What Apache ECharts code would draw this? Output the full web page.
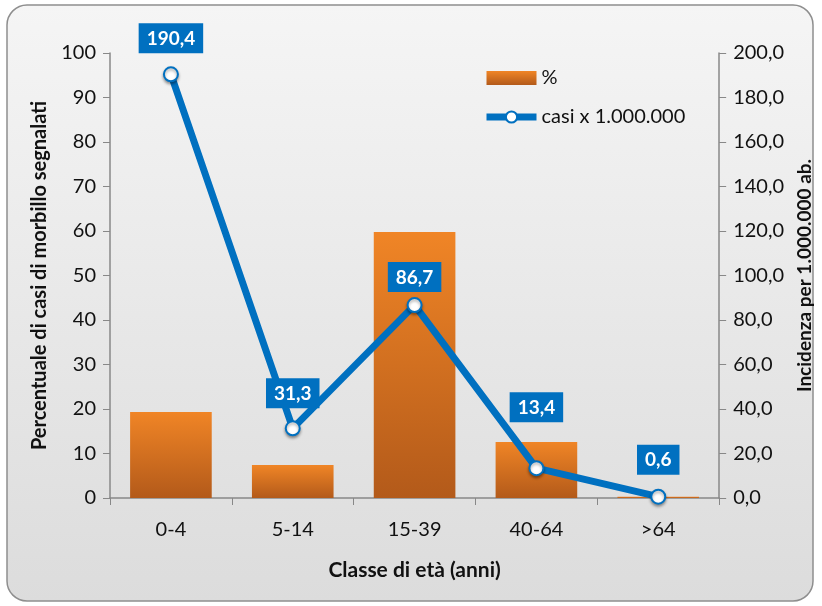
<!DOCTYPE html>
<html><head><meta charset="utf-8">
<script src="https://cdn.jsdelivr.net/npm/echarts@6/dist/echarts.min.js"></script>
<style>html,body{margin:0;padding:0;background:#fff}#c{width:822px;height:606px}</style>
</head><body><div id="c"></div>
<script>
const categories = ['0-4', '5-14', '15-39', '40-64', '>64'];
const percentValues = [19.3, 7.4, 59.8, 12.6, 0.3];
const incidenceValues = [190.4, 31.3, 86.7, 13.4, 0.6];
const seriesNames = ['%', 'casi x 1.000.000'];
const xAxisTitle = 'Classe di età (anni)';
const leftAxisTitle = 'Percentuale di casi di morbillo segnalati';
const rightAxisTitle = 'Incidenza per 1.000.000 ab.';

// label offsets above each point (style only)
const labelGaps = [13, 12, 5, 38, 14];

const FONT = 'Lato, "Open Sans", sans-serif';
const comma1 = v => v.toFixed(1).replace('.', ',');
const chart = echarts.init(document.getElementById('c'));
chart.setOption({
  animation: false,
  textStyle: { fontFamily: FONT },
  graphic: [{
    type: 'rect', z: -10, silent: true,
    shape: { x: 7, y: 5, width: 806, height: 596, r: 20 },
    style: {
      fill: new echarts.graphic.LinearGradient(0, 0, 0, 1, [
        { offset: 0, color: '#f5f5f5' }, { offset: 1, color: '#dcdcdc' }]),
      stroke: '#8e8e8e', lineWidth: 1.5
    }
  }],
  legend: {
    orient: 'vertical', left: 478, top: 63, itemGap: 19,
    itemWidth: 50, itemHeight: 14,
    textStyle: { fontSize: 20, color: '#111', fontFamily: FONT },
    data: [
      { name: seriesNames[0], icon: 'rect' },
      { name: seriesNames[1], lineStyle: { width: 7 } }
    ]
  },
  grid: { left: 110, right: 102, top: 53, bottom: 108 },
  xAxis: {
    type: 'category', data: categories,
    name: xAxisTitle, nameLocation: 'middle', nameGap: 62,
    nameTextStyle: { fontSize: 21, fontWeight: 'bold', color: '#111' },
    axisLine: { lineStyle: { color: '#888', width: 1.5 } },
    axisTick: { show: true, length: 7, lineStyle: { color: '#888' } },
    axisLabel: { fontSize: 20, color: '#111', margin: 22 }
  },
  yAxis: [{
    type: 'value', min: 0, max: 100, interval: 10,
    name: leftAxisTitle, nameLocation: 'middle', nameGap: 60, nameRotate: 90,
    nameTextStyle: { fontSize: 20, fontWeight: 'bold', color: '#111' },
    axisLine: { show: true, lineStyle: { color: '#888', width: 1.5 } },
    axisTick: { show: true, length: 7, lineStyle: { color: '#888' } },
    axisLabel: { fontSize: 20, color: '#111', margin: 14 },
    splitLine: { show: false }
  }, {
    type: 'value', min: 0, max: 200, interval: 20, position: 'right',
    name: rightAxisTitle, nameLocation: 'middle', nameGap: 72, nameRotate: 90,
    nameTextStyle: { fontSize: 19, fontWeight: 'bold', color: '#111' },
    axisLine: { show: true, lineStyle: { color: '#888', width: 1.5 } },
    axisTick: { show: true, length: 7, lineStyle: { color: '#888' } },
    axisLabel: { fontSize: 20, color: '#111', margin: 14, formatter: comma1 },
    splitLine: { show: false }
  }],
  series: [{
    name: seriesNames[0], type: 'bar', data: percentValues, barWidth: '67%', yAxisIndex: 0,
    itemStyle: {
      color: new echarts.graphic.LinearGradient(0, 0, 0, 1, [
        { offset: 0, color: '#F08526' }, { offset: 1, color: '#B35A1A' }])
    }
  }, {
    name: seriesNames[1], type: 'line', yAxisIndex: 1,
    data: incidenceValues.map((v, i) => ({ value: v, label: { distance: labelGaps[i] } })),
    symbol: 'circle', symbolSize: 14,
    lineStyle: { color: '#0070C0', width: 7 },
    itemStyle: { color: '#ffffff', borderColor: '#0070C0', borderWidth: 2,
      shadowBlur: 3, shadowColor: 'rgba(0,0,0,0.35)', shadowOffsetY: 2 },
    label: {
      show: true, position: 'top',
      backgroundColor: '#0070C0', color: '#fff', fontWeight: 'bold', fontSize: 19,
      padding: [6, 8, 5, 8], formatter: p => comma1(p.value)
    },
    z: 5
  }]
});
</script></body></html>
